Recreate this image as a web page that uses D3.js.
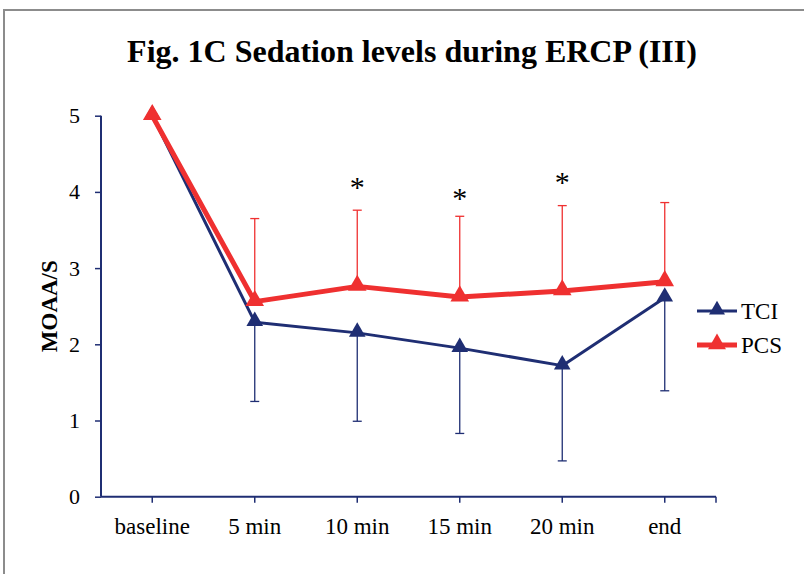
<!DOCTYPE html>
<html>
<head>
<meta charset="utf-8">
<script src="https://cdn.jsdelivr.net/npm/d3@7"></script>
<style>
  body { margin: 0; background: #fff; }
  text { font-family: "Liberation Serif", "Times New Roman", serif; }
</style>
</head>
<body>
<div id="chart"></div>
<script>
// categories and series
var categories = ["baseline", "5 min", "10 min", "15 min", "20 min", "end"];
var tciMean = [5.0, 2.29, 2.15, 1.95, 1.72, 2.61];
var tciSd   = [0, 1.04, 1.16, 1.12, 1.25, 1.22];
var pcsMean = [5.0, 2.56, 2.76, 2.62, 2.70, 2.82];
var pcsSd   = [0, 1.09, 1.00, 1.06, 1.12, 1.04];
var yTicks = [0, 1, 2, 3, 4, 5];
// significance marks (category, height in y units)
var stars = [["10 min", 4.13], ["15 min", 3.99], ["20 min", 4.19]];

var navy = "#1f2e73", red = "#ef3030";
var width = 804, height = 574;
var margin = {top: 117, right: 88, bottom: 77, left: 101};

var svg = d3.select("#chart").append("svg")
    .attr("width", width).attr("height", height);

// outer frame
svg.append("rect")
    .attr("x", 4).attr("y", 10)
    .attr("width", width + 10).attr("height", height + 10)
    .attr("fill", "none").attr("stroke", "#8c8c8c").attr("stroke-width", 2);

svg.append("text")
    .attr("x", 412).attr("y", 62)
    .attr("text-anchor", "middle")
    .attr("font-size", 32).attr("font-weight", "bold")
    .text("Fig. 1C Sedation levels during ERCP (III)");

var x = d3.scaleBand().domain(categories).range([margin.left, width - margin.right]);
var y = d3.scaleLinear().domain([0, 5]).range([height - margin.bottom - 0.3, margin.top - 1.3]);
var cx = function(c) { return x(c) + x.bandwidth() / 2; };

// y axis
var yAxis = svg.append("g")
    .attr("transform", "translate(" + margin.left + ",0)")
    .call(d3.axisLeft(y).tickValues(yTicks).tickSize(6).tickPadding(15).tickFormat(d3.format("d")));
yAxis.select(".domain").attr("stroke", navy).attr("stroke-width", 2).attr("d",
    "M0," + y(5) + "V" + y(0));
yAxis.selectAll(".tick line").attr("stroke", navy).attr("stroke-width", 1.5);
yAxis.selectAll(".tick text").attr("font-size", 22).attr("fill", "#000")
    .attr("font-family", "Liberation Serif, Times New Roman, serif");

// x axis: ticks at category centres plus at the axis end
var xAxisG = svg.append("g").attr("transform", "translate(0," + y(0) + ")");
xAxisG.append("line")
    .attr("x1", margin.left).attr("x2", width - margin.right)
    .attr("stroke", navy).attr("stroke-width", 2);
var xt = categories.map(cx).concat([width - margin.right]);
xAxisG.selectAll("line.tk").data(xt).enter().append("line")
    .attr("class", "tk")
    .attr("x1", function(d) { return d; }).attr("x2", function(d) { return d; })
    .attr("y1", 0).attr("y2", 6)
    .attr("stroke", navy).attr("stroke-width", 1.5);
xAxisG.selectAll("text").data(categories).enter().append("text")
    .attr("x", cx).attr("y", 37)
    .attr("text-anchor", "middle").attr("font-size", 23)
    .text(function(d) { return d; });

svg.append("text")
    .attr("transform", "translate(57," + y(2.5) + ") rotate(-90)")
    .attr("text-anchor", "middle")
    .attr("font-size", 23).attr("font-weight", "bold")
    .text("MOAA/S");

var tri = d3.symbol().type(d3.symbolTriangle);

function drawSeries(mean, sd, color, lw, dir, triSize, capW) {
  var pts = categories.map(function(c, i) { return {c: c, m: mean[i], s: sd[i]}; });
  var eb = svg.append("g");
  pts.filter(function(p) { return p.s > 0; }).forEach(function(p) {
    var y2 = y(p.m + dir * p.s);
    eb.append("line")
        .attr("x1", cx(p.c)).attr("x2", cx(p.c))
        .attr("y1", y(p.m)).attr("y2", y2)
        .attr("stroke", color).attr("stroke-width", 1.3);
    eb.append("line")
        .attr("x1", cx(p.c) - capW / 2).attr("x2", cx(p.c) + capW / 2)
        .attr("y1", y2).attr("y2", y2)
        .attr("stroke", color).attr("stroke-width", 1.3);
  });
  svg.append("path")
      .datum(pts)
      .attr("fill", "none").attr("stroke", color).attr("stroke-width", lw)
      .attr("stroke-linejoin", "round")
      .attr("d", d3.line().x(function(p) { return cx(p.c); }).y(function(p) { return y(p.m); }));
  svg.append("g").selectAll("path").data(pts).enter().append("path")
      .attr("d", tri.size(triSize))
      .attr("transform", function(p) { return "translate(" + cx(p.c) + "," + (y(p.m) - 1) + ")"; })
      .attr("fill", color);
}

drawSeries(tciMean, tciSd, navy, 3, -1, 120, 9);
drawSeries(pcsMean, pcsSd, red, 5, 1, 150, 9);

// asterisks
svg.selectAll("text.star").data(stars).enter().append("text")
    .attr("class", "star")
    .attr("x", function(d) { return cx(d[0]); })
    .attr("y", function(d) { return y(d[1]) + 15; })
    .attr("text-anchor", "middle")
    .attr("font-size", 30)
    .text("*");

// legend
var legend = [["TCI", navy, 3, 110], ["PCS", red, 5, 140]];
legend.forEach(function(l, i) {
  var ly = 311 + i * 34;
  svg.append("line").attr("x1", 697).attr("x2", 737).attr("y1", ly).attr("y2", ly)
      .attr("stroke", l[1]).attr("stroke-width", l[2]);
  svg.append("path").attr("d", tri.size(l[3]))
      .attr("transform", "translate(717," + (ly - 1) + ")").attr("fill", l[1]);
  svg.append("text").attr("x", 741).attr("y", ly + 8).attr("font-size", 23).text(l[0]);
});
</script>
</body>
</html>
